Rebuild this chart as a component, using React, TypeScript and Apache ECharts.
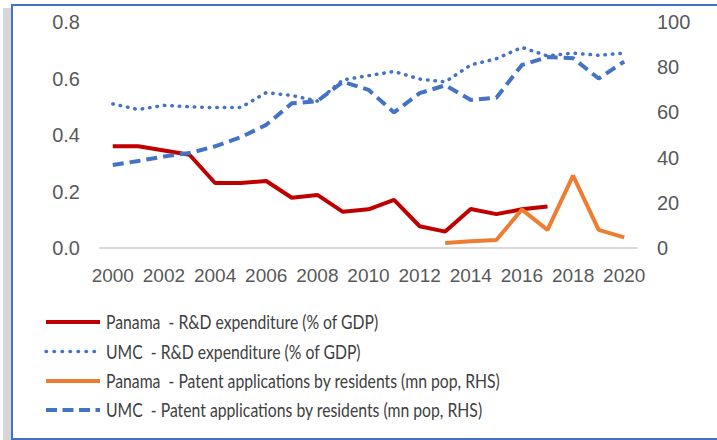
import React, { useEffect, useRef } from "react";
import * as echarts from "echarts";

const years = ["2000","2001","2002","2003","2004","2005","2006","2007","2008","2009","2010","2011","2012","2013","2014","2015","2016","2017","2018","2019","2020"];
const panamaRD = [0.36,0.36,0.345,0.33,0.23,0.23,0.237,0.178,0.188,0.128,0.137,0.17,0.077,0.058,0.138,0.12,0.137,0.147,null,null,null];
const umcRD = [0.51,0.49,0.505,0.5,0.497,0.497,0.55,0.54,0.52,0.595,0.61,0.625,0.598,0.588,0.648,0.67,0.71,0.68,0.69,0.682,0.69];
const panamaPatents = [null,null,null,null,null,null,null,null,null,null,null,null,null,2.2,3,3.5,17,8,32,8,4.7];
const umcPatents = [36.7,38.5,40.5,42,45,49,54.5,64,65,73.5,70,60,68.5,72,65.5,66.5,81,84.5,84,75,82.5];
const leftTicks = [0, 0.2, 0.4, 0.6, 0.8];
const rightTicks = [0, 20, 40, 60, 80, 100];
const seriesNames = [
  "Panama  - R&D expenditure (% of GDP)",
  "UMC  - R&D expenditure (% of GDP)",
  "Panama  - Patent applications by residents (mn pop, RHS)",
  "UMC  - Patent applications by residents (mn pop, RHS)",
];

const FONT = "Lato, 'Liberation Sans', sans-serif";
const RED = "#C00000";
const BLUE = "#4472C4";
const ORANGE = "#ED7D31";

const styles: any[] = [
  { color: RED, width: 4, type: "solid", cap: "butt" },
  { color: BLUE, width: 3.5, type: [0.5, 7], cap: "round" },
  { color: ORANGE, width: 4, type: "solid", cap: "butt" },
  { color: BLUE, width: 4, type: [11, 6], cap: "butt" },
];
const legendDash: any[] = [null, [0.5, 7.5], null, [11, 5.5]];

export default function App() {
  const ref = useRef<HTMLDivElement>(null);
  useEffect(() => {
    const chart = echarts.init(ref.current!, null, { renderer: "svg" });
    const axisLabel = { color: "#595959", fontSize: 20, fontFamily: "'Liberation Sans', sans-serif" };
    const rowY = [322, 351.5, 381, 410];
    const legendGraphics: any[] = [];
    seriesNames.forEach((name, i) => {
      legendGraphics.push({
        type: "line",
        silent: true,
        shape: { x1: 46, y1: rowY[i], x2: 100, y2: rowY[i] },
        style: {
          stroke: styles[i].color,
          lineWidth: styles[i].width,
          lineDash: legendDash[i] || undefined,
          lineCap: styles[i].cap,
        },
      });
      legendGraphics.push({
        type: "text",
        silent: true,
        x: 106,
        y: rowY[i],
        scaleX: 0.83,
        style: {
          text: name,
          fill: "#404040",
          font: `19px ${FONT}`,
          verticalAlign: "middle",
          align: "left",
        },
      });
    });
    chart.setOption({
      animation: false,
      backgroundColor: "#ffffff",
      grid: { left: 100, right: 80, top: 22, bottom: 192 },
      xAxis: {
        type: "category",
        data: years,
        boundaryGap: true,
        axisLine: { lineStyle: { color: "#D9D9D9", width: 2 } },
        axisTick: { show: false },
        axisLabel: { ...axisLabel, interval: 1, margin: 18, fontSize: 19 },
      },
      yAxis: [
        {
          type: "value",
          min: leftTicks[0],
          max: leftTicks[leftTicks.length - 1],
          interval: 0.2,
          splitLine: { show: false },
          axisLine: { show: false },
          axisTick: { show: false },
          axisLabel: { ...axisLabel, margin: 20, formatter: (v: number) => v.toFixed(1) },
        },
        {
          type: "value",
          min: rightTicks[0],
          max: rightTicks[rightTicks.length - 1],
          interval: 20,
          splitLine: { show: false },
          axisLine: { show: false },
          axisTick: { show: false },
          axisLabel: { ...axisLabel, margin: 20 },
        },
      ],
      graphic: [
        { type: "rect", shape: { x: 3, y: 8, width: 9, height: 432 }, style: { fill: "#d6d6d6" }, silent: true },
        { type: "rect", shape: { x: 12, y: 5, width: 720, height: 434 }, style: { fill: "none", stroke: BLUE, lineWidth: 2 }, silent: true },
        ...legendGraphics,
      ],
      series: [
        {
          name: seriesNames[0], type: "line", yAxisIndex: 0, data: panamaRD, symbol: "none",
          lineStyle: styles[0], itemStyle: { color: RED },
        },
        {
          name: seriesNames[1], type: "line", yAxisIndex: 0, data: umcRD, symbol: "none",
          lineStyle: styles[1], itemStyle: { color: BLUE },
        },
        {
          name: seriesNames[2], type: "line", yAxisIndex: 1, data: panamaPatents, symbol: "none",
          lineStyle: styles[2], itemStyle: { color: ORANGE },
        },
        {
          name: seriesNames[3], type: "line", yAxisIndex: 1, data: umcPatents, symbol: "none",
          lineStyle: styles[3], itemStyle: { color: BLUE },
        },
      ],
    });
    return () => chart.dispose();
  }, []);
  return <div ref={ref} style={{ position: "fixed", left: 0, top: 0, width: 717, height: 440 }} />;
}
